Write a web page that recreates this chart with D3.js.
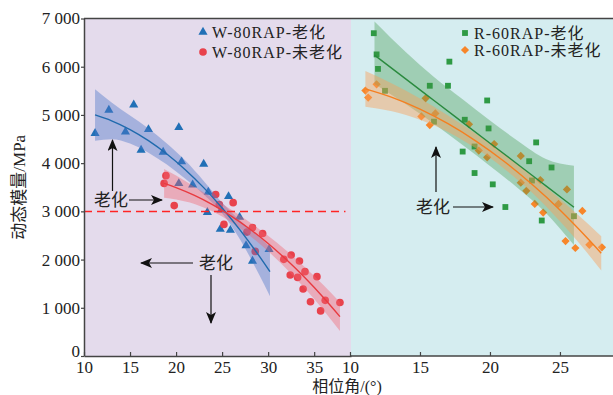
<!DOCTYPE html>
<html>
<head>
<meta charset="utf-8">
<script src="https://cdn.jsdelivr.net/npm/d3@7"></script>
<style>
  body { margin: 0; background: #fff; }
  text { font-family: "Liberation Serif", "Noto Sans CJK SC", serif; fill: #222; }
</style>
</head>
<body>
<div id="chart"></div>
<script>
// ---- data ----
const yTicks = [0, 1000, 2000, 3000, 4000, 5000, 6000, 7000];
const xTicksLeft = [10, 15, 20, 25, 30, 35];
const xTicksRight = [10, 15, 20, 25];

// W-80RAP-老化 (left panel)
const wAgedX = [11.2, 12.7, 14.5, 15.4, 16.2, 17.0, 18.6, 20.3, 20.6, 20.3, 21.8, 23.0, 23.5, 25.7, 23.4, 24.9, 24.8, 25.9, 26.9, 27.6, 28.3, 30.1];
const wAgedY = [4620, 5100, 4650, 5210, 4270, 4700, 4230, 4740, 4030, 3580, 3550, 3980, 3400, 3310, 2980, 3030, 2630, 2610, 2880, 2290, 1970, 2210];
// W-80RAP-未老化 (left panel)
const wFreshX = [18.9, 18.7, 19.8, 24.3, 24.7, 26.2, 25.2, 27.7, 28.3, 29.4, 28.6, 31.7, 32.5, 33.4, 32.4, 33.2, 34.0, 35.3, 33.8, 34.6, 35.7, 36.2, 37.8];
const wFreshY = [3740, 3580, 3120, 3350, 3140, 3180, 2730, 2570, 2665, 2540, 2170, 2005, 2095, 1970, 1680, 1630, 1750, 1645, 1390, 1125, 935, 1155, 1110];
// R-60RAP-老化 (right panel)
const rAgedX = [11.7, 11.9, 12.0, 12.5, 15.7, 17.0, 17.1, 16.0, 18.2, 19.8, 19.9, 18.9, 18.05, 18.9, 20.2, 21.1, 23.3, 22.8, 24.4, 23.0, 23.7, 26.0];
const rAgedY = [6695, 6255, 5955, 5500, 5605, 5605, 6105, 4860, 4900, 5300, 4720, 4345, 4240, 3795, 3560, 3090, 4430, 4040, 3910, 3640, 2810, 2900];
// R-60RAP-未老化 (right panel)
const rFreshX = [11.1, 11.3, 11.9, 15.4, 15.1, 15.7, 16.1, 18.5, 20.3, 19.2, 19.8, 22.2, 22.2, 22.6, 23.6, 25.5, 24.9, 23.2, 23.8, 26.6, 25.4, 26.1, 27.1, 28.0];
const rFreshY = [5505, 5360, 5635, 5345, 4970, 4790, 5030, 4805, 4395, 4260, 4120, 4150, 3595, 3425, 3650, 3455, 3155, 3155, 2975, 3010, 2385, 2240, 2305, 2255];

// fitted curves and their bands, read at a few x positions
const wAgedFitX = [11.2, 13, 15, 17, 19, 21, 23, 25, 27, 29, 30.2];
const wAgedFitY = [5000, 4878, 4697, 4468, 4190, 3865, 3492, 3070, 2601, 2083, 1749];
const wAgedFitHi = [5535, 5258, 4987, 4718, 4410, 4055, 3632, 3180, 2801, 2473, 2259];
const wAgedFitLo = [4465, 4498, 4407, 4218, 3970, 3675, 3352, 2960, 2401, 1693, 1239];

const wFreshFitX = [18.7, 20, 22, 24, 26, 28, 30, 32, 34, 36, 37.8];
const wFreshFitY = [3580, 3494, 3332, 3135, 2902, 2635, 2332, 1994, 1621, 1213, 816];
const wFreshFitHi = [3880, 3744, 3512, 3275, 3032, 2775, 2492, 2184, 1841, 1473, 1116];
const wFreshFitLo = [3280, 3244, 3152, 2995, 2772, 2495, 2172, 1804, 1401, 953, 516];

const rAgedFitX = [11.75, 14, 16, 18, 20, 22, 24, 26];
const rAgedFitY = [6240, 5742, 5299, 4856, 4413, 3971, 3528, 3085];
const rAgedFitHi = [6940, 6302, 5789, 5336, 4883, 4461, 4088, 3945];
const rAgedFitLo = [5640, 5222, 4819, 4386, 3943, 3481, 2968, 2300];

const rFreshFitX = [11.1, 13, 15, 17, 19, 21, 23, 25, 27, 27.95];
const rFreshFitY = [5540, 5364, 5120, 4818, 4458, 4040, 3562, 3026, 2431, 2130];
const rFreshFitHi = [5910, 5654, 5340, 4988, 4608, 4190, 3732, 3256, 2741, 2485];
const rFreshFitLo = [5170, 5074, 4900, 4648, 4308, 3890, 3392, 2796, 2121, 1775];

const refLine = 3000;

// ---- layout ----
const width = 613, height = 395;
const svg = d3.select('#chart').append('svg')
  .attr('width', width)
  .attr('height', height);

const y = d3.scaleLinear().domain([0, 7000]).range([356, 18.5]);
const xL = d3.scaleLinear().domain([10, 39]).range([84, 351]);
const xR = d3.scaleLinear().domain([10, 28.79]).range([350, 613]);

// panel backgrounds
svg.append('rect')
  .attr('x', xL(10)).attr('y', y(7000))
  .attr('width', xL(39) - xL(10)).attr('height', y(0) - y(7000))
  .attr('fill', '#e4dbec');
svg.append('rect')
  .attr('x', xL(39)).attr('y', y(7000))
  .attr('width', width - xL(39)).attr('height', y(0) - y(7000))
  .attr('fill', '#d5edf0');

const zip = (xs, ys) => xs.map((v, i) => ({ x: v, y: ys[i] }));
const band = (xs, lo, hi) => xs.map((v, i) => ({ x: v, lo: lo[i], hi: hi[i] }));

// markers first, bands go over them
function drawPoints(xs, ys, x, type, size, color, rotate) {
  svg.append('g').selectAll('path')
    .data(zip(xs, ys))
    .enter()
    .append('path')
    .attr('d', d3.symbol().type(type).size(size))
    .attr('transform', d => `translate(${x(d.x)},${y(d.y)})` + (rotate ? ' rotate(45)' : ''))
    .attr('fill', color);
}

drawPoints(wAgedX, wAgedY, xL, d3.symbolTriangle, 36, '#2170b6');
drawPoints(wFreshX, wFreshY, xL, d3.symbolCircle, 46, '#e8424c');
drawPoints(rAgedX, rAgedY, xR, d3.symbolSquare, 34, '#2e9a44');
drawPoints(rFreshX, rFreshY, xR, d3.symbolSquare, 34, '#f7862a', true);

function drawBand(xs, lo, hi, x, color, opacity) {
  const area = d3.area()
    .x(d => x(d.x))
    .y0(d => y(d.lo))
    .y1(d => y(d.hi))
    .curve(d3.curveMonotoneX);
  svg.append('path')
    .datum(band(xs, lo, hi))
    .attr('d', area)
    .attr('fill', color)
    .attr('fill-opacity', opacity);
}

drawBand(wAgedFitX, wAgedFitLo, wAgedFitHi, xL, '#4f78c8', 0.42);
drawBand(wFreshFitX, wFreshFitLo, wFreshFitHi, xL, '#f06470', 0.4);
drawBand(rAgedFitX, rAgedFitLo, rAgedFitHi, xR, '#3c9646', 0.35);
drawBand(rFreshFitX, rFreshFitLo, rFreshFitHi, xR, '#f8a05a', 0.45);

// 3000 MPa reference line, on top of the bands
svg.append('line')
  .attr('x1', xL(10)).attr('x2', xL(38.4))
  .attr('y1', Math.round(y(refLine)) + 0.5).attr('y2', Math.round(y(refLine)) + 0.5)
  .attr('stroke', '#ff2424')
  .attr('stroke-width', 1.5)
  .attr('stroke-dasharray', '8 5');

function drawFit(xs, ys, x, color) {
  const line = d3.line()
    .x(d => x(d.x))
    .y(d => y(d.y))
    .curve(d3.curveNatural);
  svg.append('path')
    .datum(zip(xs, ys))
    .attr('d', line)
    .attr('fill', 'none')
    .attr('stroke', color)
    .attr('stroke-width', 1.4);
}

drawFit(wAgedFitX, wAgedFitY, xL, '#1f6aad');
drawFit(wFreshFitX, wFreshFitY, xL, '#e83a40');
drawFit(rAgedFitX, rAgedFitY, xR, '#2a8a3e');
drawFit(rFreshFitX, rFreshFitY, xR, '#f57f20');

// axes
const fmt = d => d3.format(',')(d).replace(',', ' ');
const yAxis = svg.append('g')
  .attr('transform', `translate(${xL(10)},0)`)
  .call(d3.axisLeft(y).tickValues(yTicks).tickFormat(fmt).tickSize(3).tickSizeOuter(0).tickPadding(1));
// the "0" sits a little higher, clear of the x labels
yAxis.selectAll('.tick').filter(d => d === 0).select('text').attr('dy', '0em');

const xAxisL = svg.append('g')
  .attr('transform', `translate(0,${y(0)})`)
  .call(d3.axisBottom(xL).tickValues(xTicksLeft).tickSizeInner(-4).tickSizeOuter(0).tickPadding(5));
const xAxisR = svg.append('g')
  .attr('transform', `translate(0,${y(0)})`)
  .call(d3.axisBottom(xR).tickValues(xTicksRight).tickSizeInner(-4).tickSizeOuter(0).tickPadding(5));

[yAxis, xAxisL, xAxisR].forEach(g => {
  g.selectAll('path.domain').attr('stroke', '#444').attr('stroke-width', 1.5);
  g.selectAll('line').attr('stroke', '#444').attr('stroke-width', 1.2);
  g.selectAll('text').style('font-size', '17px').attr('fill', '#222');
});
xAxisR.select('path.domain').attr('d', `M${xL(39)},0H${width}`);

// top border
svg.append('line')
  .attr('x1', xL(10)).attr('x2', width)
  .attr('y1', y(7000)).attr('y2', y(7000))
  .attr('stroke', '#444').attr('stroke-width', 1.5);

// axis titles
svg.append('text')
  .attr('transform', `translate(19,${(y(0) + y(7000)) / 2}) rotate(-90)`)
  .attr('text-anchor', 'middle')
  .attr('dy', '0.35em')
  .style('font-size', '17px')
  .text('动态模量/MPa');

svg.append('text')
  .attr('x', 347).attr('y', 392)
  .attr('text-anchor', 'middle')
  .style('font-size', '16px')
  .text('相位角/(°)');

// legends
const legends = [
  { x: 203, y: 32, type: d3.symbolTriangle, color: '#2170b6', size: 36, rot: false, label: 'W-80RAP-老化' },
  { x: 203, y: 52, type: d3.symbolCircle, color: '#e8424c', size: 46, rot: false, label: 'W-80RAP-未老化' },
  { x: 465, y: 33, type: d3.symbolSquare, color: '#2e9a44', size: 34, rot: false, label: 'R-60RAP-老化' },
  { x: 465, y: 50, type: d3.symbolSquare, color: '#f7862a', size: 34, rot: true, label: 'R-60RAP-未老化' }
];
legends.forEach(l => {
  svg.append('path')
    .attr('d', d3.symbol().type(l.type).size(l.size))
    .attr('transform', `translate(${l.x},${l.y})` + (l.rot ? ' rotate(45)' : ''))
    .attr('fill', l.color);
  svg.append('text')
    .attr('x', l.x + 9).attr('y', l.y)
    .attr('dy', '0.35em')
    .style('font-size', '16px')
    .style('letter-spacing', '1px')
    .text(l.label);
});

// annotations
svg.append('defs').append('marker')
  .attr('id', 'head')
  .attr('viewBox', '0 0 12 10')
  .attr('refX', 11).attr('refY', 5)
  .attr('markerWidth', 12).attr('markerHeight', 10)
  .attr('markerUnits', 'userSpaceOnUse')
  .attr('orient', 'auto')
  .append('path')
  .attr('d', 'M0,0 L12,5 L0,10 L3,5 Z')
  .attr('fill', '#111');

function arrow(x1, y1, x2, y2) {
  svg.append('line')
    .attr('x1', x1).attr('y1', y1).attr('x2', x2).attr('y2', y2)
    .attr('stroke', '#111').attr('stroke-width', 1.2)
    .attr('marker-end', 'url(#head)');
}
function note(x, yy) {
  svg.append('text')
    .attr('x', x).attr('y', yy)
    .attr('dy', '0.35em')
    .attr('text-anchor', 'middle')
    .style('font-size', '17px')
    .text('老化');
}

note(111, 200);
arrow(112.5, 191, 112.5, 140);
arrow(129, 200, 162, 200);

note(216, 263);
arrow(193, 263, 141, 263);
arrow(211, 275, 211, 323);

note(433, 207);
arrow(453, 207, 493, 207);
arrow(436, 192, 436, 147);
</script>
</body>
</html>
